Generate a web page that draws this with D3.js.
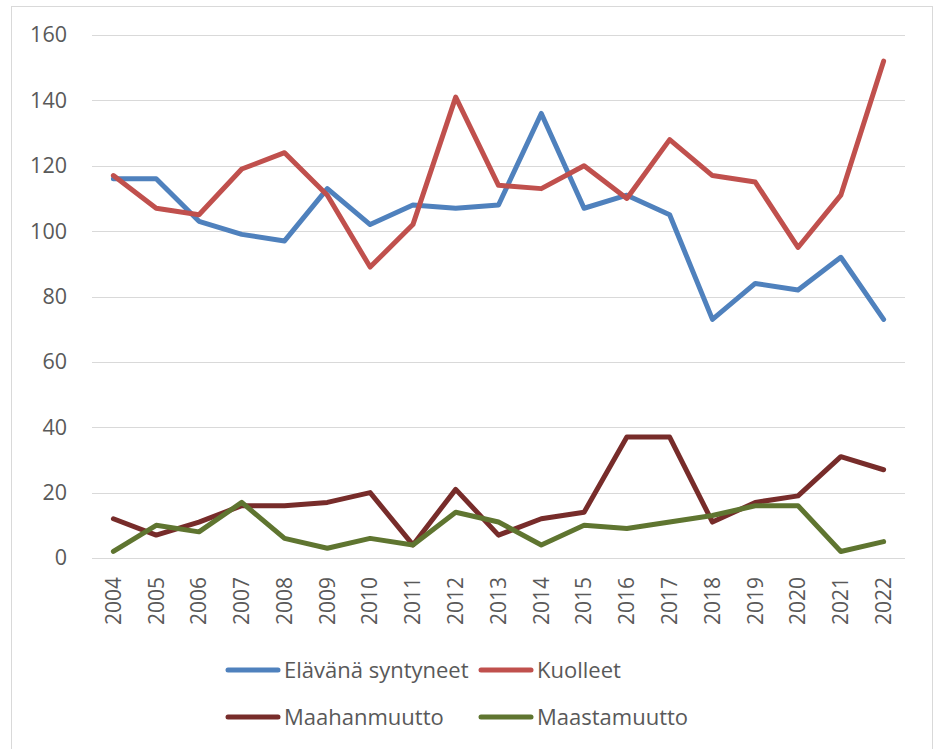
<!DOCTYPE html>
<html><head><meta charset="utf-8">
<script src="https://cdn.jsdelivr.net/npm/d3@7"></script>
<style>body{margin:0;background:#fff}svg{display:block}text{font-family:"Open Sans",sans-serif;fill:#595959}</style>
</head><body>
<svg id="c" width="934" height="749"></svg>
<script>
const years = ["2004","2005","2006","2007","2008","2009","2010","2011","2012","2013","2014","2015","2016","2017","2018","2019","2020","2021","2022"];
const elavana = [116,116,103,99,97,113,102,108,107,108,136,107,111,105,73,84,82,92,73];
const kuolleet = [117,107,105,119,124,111,89,102,141,114,113,120,110,128,117,115,95,111,152];
const maahanmuutto = [12,7,11,16,16,17,20,4,21,7,12,14,37,37,11,17,19,31,27];
const maastamuutto = [2,10,8,17,6,3,6,4,14,11,4,10,9,11,13,16,16,2,5];
const yTicks = [0,20,40,60,80,100,120,140,160];
const seriesNames = ["Elävänä syntyneet","Kuolleet","Maahanmuutto","Maastamuutto"];
const colors = ["#4f81bd","#c0504d","#772c2a","#5f7530"];
const seriesData = [elavana,kuolleet,maahanmuutto,maastamuutto];

const svg = d3.select("#c");
svg.append("rect").attr("x",11.5).attr("y",6.5).attr("width",921).attr("height",760)
  .attr("fill","#fff").attr("stroke","#d9d9d9").attr("stroke-width",1);

const pL=92, pR=905, pT=35, pB=558;
const x = d3.scaleBand().domain(years).range([pL,pR]);
const y = d3.scaleLinear().domain([0,160]).range([pB,pT]);

svg.append("g").selectAll("line").data(yTicks).join("line")
  .attr("x1",pL).attr("x2",pR).attr("y1",d=>Math.round(y(d))+0.5).attr("y2",d=>Math.round(y(d))+0.5)
  .attr("stroke","#d9d9d9").attr("stroke-width",1.2);

const yAxis = svg.append("g").attr("transform",`translate(${pL},0)`)
  .call(d3.axisLeft(y).tickValues(yTicks).tickSize(0).tickPadding(25));
yAxis.select(".domain").remove();
yAxis.selectAll("text").style("font-size","21.5px").attr("fill","#595959");

const xAxis = svg.append("g").attr("transform",`translate(0,${pB})`)
  .call(d3.axisBottom(x).tickSize(0));
xAxis.select(".domain").remove();
xAxis.selectAll("text").style("font-size","21px").attr("fill","#595959")
  .attr("transform","rotate(-90)").attr("text-anchor","end")
  .attr("x",-19).attr("y",0).attr("dy","0.35em");

const line = d3.line().x((d,i)=>x(years[i])+x.bandwidth()/2).y(d=>y(d));
seriesData.forEach((s,k)=>{
  svg.append("path").datum(s).attr("d",line).attr("fill","none")
    .attr("stroke",colors[k]).attr("stroke-width",5)
    .attr("stroke-linejoin","round").attr("stroke-linecap","round");
});

const legPos = [[226,670],[479,670],[226,717],[479,717]];
seriesNames.forEach((n,k)=>{
  const [lx,ly]=legPos[k];
  svg.append("line").attr("x1",lx+2).attr("x2",lx+52).attr("y1",ly).attr("y2",ly)
    .attr("stroke",colors[k]).attr("stroke-width",5).attr("stroke-linecap","round");
  svg.append("text").attr("x",lx+58).attr("y",ly).attr("dy","0.35em")
    .style("font-size","22px").text(n);
});
</script>
</body></html>
